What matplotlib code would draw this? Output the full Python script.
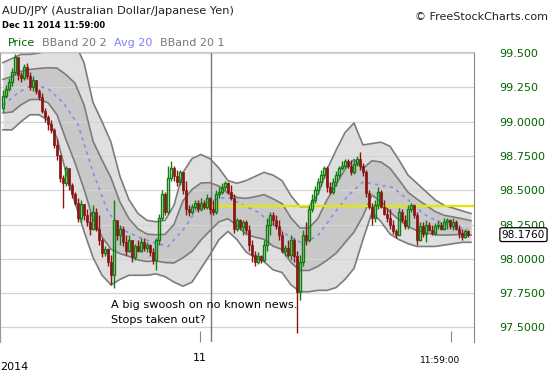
import numpy as np
import matplotlib
matplotlib.use("Agg")
import matplotlib.pyplot as plt
from matplotlib.transforms import blended_transform_factory

# AUD/JPY candles, Dec 10-11 2014
first_open = 99.10
close = [99.19, 99.24, 99.29, 99.36, 99.47, 99.34, 99.32, 99.40, 99.33, 99.25,
         99.30, 99.22, 99.18, 99.08, 99.03, 98.98, 98.94, 98.83, 98.76, 98.59,
         98.55, 98.66, 98.54, 98.47, 98.41, 98.30, 98.40, 98.32, 98.27, 98.22,
         98.34, 98.22, 98.14, 98.04, 98.07, 97.98, 97.88, 98.28, 98.17, 98.22,
         98.12, 98.06, 98.14, 98.01, 98.09, 98.06, 98.12, 98.08, 98.10, 98.05,
         97.99, 98.14, 98.30, 98.47, 98.34, 98.59, 98.66, 98.60, 98.56, 98.63,
         98.50, 98.36, 98.34, 98.38, 98.41, 98.36, 98.41, 98.38, 98.44, 98.36,
         98.34, 98.47, 98.49, 98.52, 98.55, 98.49, 98.44, 98.22, 98.28, 98.23,
         98.27, 98.21, 98.10, 98.03, 97.98, 98.02, 97.99, 98.10, 98.25, 98.32,
         98.28, 98.24, 98.17, 98.06, 98.08, 98.03, 98.14, 98.02, 97.76, 97.98,
         98.17, 98.14, 98.36, 98.43, 98.50, 98.56, 98.61, 98.66, 98.52, 98.49,
         98.56, 98.61, 98.66, 98.68, 98.71, 98.68, 98.63, 98.69, 98.73, 98.68,
         98.63, 98.48, 98.38, 98.30, 98.39, 98.49, 98.38, 98.33, 98.30, 98.25,
         98.20, 98.17, 98.34, 98.28, 98.24, 98.36, 98.39, 98.32, 98.14, 98.24,
         98.18, 98.25, 98.21, 98.19, 98.24, 98.25, 98.22, 98.27, 98.28, 98.24,
         98.27, 98.22, 98.19, 98.16, 98.20, 98.176]
high = [99.23, 99.27, 99.32, 99.39, 99.49, 99.46, 99.36, 99.42, 99.43, 99.36,
        99.33, 99.29, 99.24, 99.21, 99.10, 99.05, 99.01, 98.95, 98.87, 98.76,
        98.61, 98.68, 98.65, 98.55, 98.49, 98.44, 98.43, 98.39, 98.36, 98.34,
        98.39, 98.37, 98.32, 98.15, 98.09, 98.08, 98.03, 98.43, 98.27, 98.25,
        98.24, 98.17, 98.17, 98.14, 98.11, 98.14, 98.15, 98.15, 98.12, 98.11,
        98.08, 98.15, 98.33, 98.50, 98.49, 98.68, 98.71, 98.68, 98.65, 98.65,
        98.63, 98.57, 98.39, 98.40, 98.43, 98.43, 98.44, 98.43, 98.47, 98.45,
        98.43, 98.50, 98.52, 98.55, 98.57, 98.56, 98.54, 98.47, 98.30, 98.29,
        98.28, 98.28, 98.25, 98.14, 98.06, 98.05, 98.03, 98.14, 98.30, 98.34,
        98.34, 98.32, 98.28, 98.20, 98.10, 98.14, 98.17, 98.15, 98.06, 98.03,
        98.21, 98.27, 98.39, 98.47, 98.53, 98.59, 98.65, 98.68, 98.68, 98.56,
        98.59, 98.64, 98.68, 98.71, 98.73, 98.73, 98.72, 98.72, 98.75, 98.78,
        98.70, 98.65, 98.50, 98.41, 98.43, 98.52, 98.50, 98.43, 98.37, 98.36,
        98.28, 98.22, 98.37, 98.36, 98.32, 98.39, 98.41, 98.39, 98.34, 98.27,
        98.27, 98.28, 98.27, 98.25, 98.26, 98.28, 98.27, 98.30, 98.30, 98.29,
        98.30, 98.28, 98.25, 98.22, 98.22, 98.21]
low = [99.07, 99.17, 99.22, 99.26, 99.34, 99.30, 99.29, 99.30, 99.31, 99.23,
       99.22, 99.20, 99.16, 99.06, 99.00, 98.94, 98.92, 98.81, 98.72, 98.56,
       98.37, 98.53, 98.50, 98.44, 98.39, 98.27, 98.27, 98.28, 98.24, 98.17,
       98.21, 98.20, 98.10, 98.01, 98.02, 97.95, 97.81, 97.79, 98.14, 98.10,
       98.09, 98.03, 98.05, 97.98, 97.99, 98.05, 98.05, 98.06, 98.05, 98.02,
       97.96, 97.92, 98.10, 98.28, 98.32, 98.33, 98.57, 98.57, 98.53, 98.54,
       98.47, 98.32, 98.31, 98.33, 98.36, 98.34, 98.35, 98.36, 98.36, 98.33,
       98.32, 98.33, 98.44, 98.47, 98.50, 98.47, 98.43, 98.19, 98.20, 98.21,
       98.17, 98.19, 98.06, 97.98, 97.95, 97.96, 97.97, 97.98, 98.06, 98.17,
       98.25, 98.22, 98.14, 98.04, 98.02, 98.01, 97.99, 97.98, 97.46, 97.70,
       97.95, 98.10, 98.12, 98.34, 98.41, 98.47, 98.53, 98.59, 98.49, 98.47,
       98.47, 98.53, 98.59, 98.65, 98.66, 98.66, 98.61, 98.62, 98.68, 98.65,
       98.60, 98.45, 98.36, 98.25, 98.27, 98.36, 98.37, 98.32, 98.27, 98.22,
       98.18, 98.15, 98.17, 98.27, 98.22, 98.22, 98.34, 98.30, 98.10, 98.13,
       98.16, 98.12, 98.20, 98.17, 98.17, 98.22, 98.21, 98.21, 98.22, 98.22,
       98.21, 98.21, 98.15, 98.14, 98.15, 98.16]

# Bollinger(20, 2) outer band edges, read every 3rd bar
band_idx = list(range(0, 159, 3))
bb_upper = [99.43, 99.46, 99.49, 99.49, 99.50, 99.52, 99.56, 99.58, 99.57, 99.43,
            99.14, 99.00, 98.85, 98.60, 98.43, 98.33, 98.28, 98.27, 98.28, 98.39,
            98.63, 98.73, 98.76, 98.73, 98.66, 98.57, 98.55, 98.57, 98.60, 98.63,
            98.61, 98.57, 98.46, 98.38, 98.38, 98.47, 98.65, 98.79, 98.92, 98.99,
            98.83, 98.84, 98.85, 98.82, 98.72, 98.61, 98.55, 98.49, 98.43, 98.39,
            98.37, 98.35, 98.33]
bb_lower = [98.94, 98.94, 99.00, 99.05, 99.05, 99.01, 98.88, 98.63, 98.41, 98.20,
            98.01, 97.88, 97.81, 97.85, 97.88, 97.88, 97.88, 97.89, 97.87, 97.83,
            97.80, 97.83, 97.93, 98.03, 98.14, 98.20, 98.14, 98.05, 98.01, 97.98,
            97.92, 97.90, 97.81, 97.76, 97.76, 97.77, 97.77, 97.79, 97.85, 97.93,
            98.14, 98.34, 98.27, 98.18, 98.14, 98.11, 98.09, 98.09, 98.09, 98.10,
            98.11, 98.12, 98.12]

# "Avg 20" moving average, read every 5th bar
avg_idx = list(range(0, 160, 5))
avg20 = [99.12, 99.21, 99.27, 99.24, 99.14, 98.98, 98.63, 98.34, 98.21, 98.16,
         98.12, 98.09, 98.21, 98.37, 98.43, 98.45, 98.39, 98.34, 98.25, 98.17,
         98.11, 98.17, 98.32, 98.46, 98.56, 98.54, 98.52, 98.43, 98.33, 98.27,
         98.23, 98.22]

ytick_vals = [99.5, 99.25, 99.0, 98.75, 98.5, 98.25, 98.0, 97.75, 97.5]
ytick_labels = ["99.500", "99.250", "99.0000", "98.7500", "98.5000",
                "98.2500", "98.0000", "97.7500", "97.5000"]
resistance = 98.385
last_price = 98.1760
day_split = 69.3

GREEN = "#0f7f0f"
RED = "#8a1414"

o = np.array([first_open] + close[:-1])
c = np.array(close)
h = np.array(high)
lo = np.array(low)
x = np.arange(len(c))

up2 = np.array(bb_upper)
lo2 = np.array(bb_lower)
center = (up2 + lo2) / 2
up1 = (up2 + center) / 2
lo1 = (lo2 + center) / 2

fig = plt.figure(figsize=(5.5, 3.75), dpi=100)
ax = fig.add_axes([0, 33 / 375, 474 / 550, 290 / 375])
ax.set_xlim(-1, 157)
ax.set_ylim(97.3936, 99.5073)

# bands
ax.fill_between(band_idx, lo2, up2, color="#dfdfdf", lw=0, zorder=1)
ax.fill_between(band_idx, lo1, up1, color="#c8c8c8", lw=0, zorder=1.1)
for line in (up2, up1, lo1, lo2):
    ax.plot(band_idx, line, color="#7c7c7c", lw=1.2, zorder=1.5)
ax.plot(avg_idx, avg20, color="#8a8af0", lw=1.2, ls=(0, (2, 2.5)), zorder=1.6)

for v in ytick_vals:
    ax.axhline(v, color="#d4d4d4", lw=0.9, zorder=1.3)

ax.axvline(day_split, color="#777777", lw=1, zorder=1.4)
ax.plot([67.3, 157], [resistance, resistance], color="#e6e600", lw=1.6, zorder=1.7)

# candles
up = c >= o
body_lo = np.minimum(o, c)
body_hi = np.maximum(o, c)
ax.vlines(x[~up], lo[~up], h[~up], color=RED, lw=1, zorder=2)
ax.bar(x[~up], body_hi[~up] - body_lo[~up], bottom=body_lo[~up], width=0.8,
       color=RED, edgecolor=RED, lw=0.5, zorder=2.1)
ax.vlines(x[up], body_hi[up], h[up], color=GREEN, lw=1, zorder=2)
ax.vlines(x[up], lo[up], body_lo[up], color=GREEN, lw=1, zorder=2)
ax.bar(x[up], body_hi[up] - body_lo[up], bottom=body_lo[up], width=0.75,
       facecolor="none", edgecolor=GREEN, lw=1, zorder=2.1)

# axes styling
ax.spines["bottom"].set_visible(False)
ax.spines["left"].set_color("#999999")
ax.spines["top"].set_color("#c8c8c8")
ax.spines["right"].set_color("#888888")
ax.yaxis.tick_right()
ax.set_yticks(ytick_vals)
ax.set_yticklabels(ytick_labels)
ax.tick_params(axis="y", length=0, pad=18, labelsize=8, labelcolor="#006400")
ax.set_xticks([-1, 65.7, 149.3])
ax.set_xticklabels(["", "11", ""])
ax.tick_params(axis="x", direction="in", length=8, color="#888888", labelsize=8, pad=8)

trans = blended_transform_factory(ax.transData, fig.transFigure)
ax.text(-1, 3 / 375, "2014", transform=trans, fontsize=8, ha="left", va="bottom")
ax.text(145.7, 10 / 375, "11:59:00", transform=trans, fontsize=6.5, ha="center", va="bottom")

ax.annotate(f"{last_price:.4f}", xy=(1, last_price), xycoords=("axes fraction", "data"),
            xytext=(20, 0), textcoords="offset points", fontsize=7.6, va="center",
            ha="left", bbox=dict(boxstyle="round,pad=0.18", fc="white", ec="black", lw=0.9))

ax.text(36, 97.70, "A big swoosh on no known news.\nStops taken out?", fontsize=8.1,
        ha="left", va="top", linespacing=1.65, zorder=3)

# header
fig.text(2 / 550, 1 - 11 / 375, "AUD/JPY (Australian Dollar/Japanese Yen)", fontsize=8.2,
         va="center", ha="left", color="#222222")
fig.text(2 / 550, 1 - 25 / 375, "Dec 11 2014 11:59:00", fontsize=6, fontweight="bold",
         va="center", ha="left")
legend_items = [("Price", "#006400", 8), ("BBand 20 2", "#777777", 42),
                ("Avg 20", "#8080ff", 114), ("BBand 20 1", "#777777", 160)]
for label, col, px in legend_items:
    fig.text(px / 550, 1 - 43 / 375, label, fontsize=8, color=col, va="center", ha="left")
fig.text(548 / 550, 1 - 17 / 375, "\u00a9 FreeStockCharts.com", fontsize=8,
         va="center", ha="right", color="#222222")

fig.savefig("out.png", dpi=100)
